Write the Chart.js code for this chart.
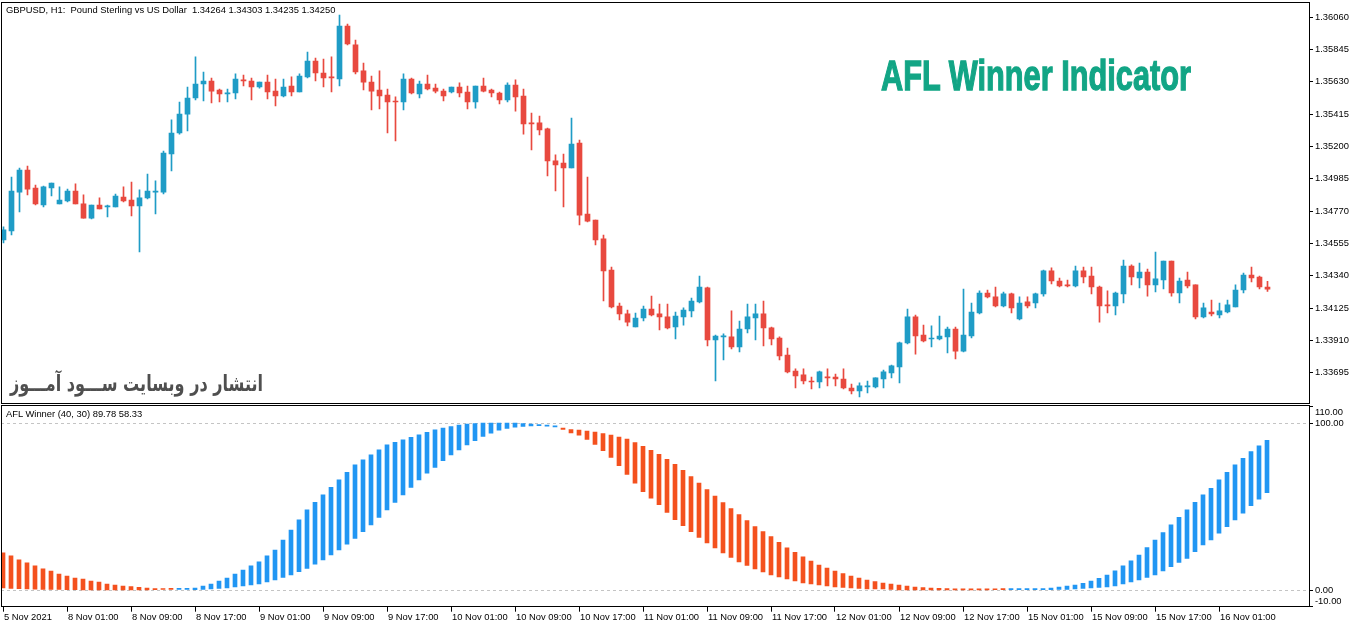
<!DOCTYPE html>
<html>
<head>
<meta charset="utf-8">
<script src="https://cdn.jsdelivr.net/npm/chart.js@4.4.0/dist/chart.umd.min.js"></script>
<style>
html,body{margin:0;padding:0;background:#fff;width:1362px;height:628px;overflow:hidden;}
#wrap{position:relative;width:1362px;height:628px;background:#fff;}
canvas{position:absolute;left:0;}
#c1{top:0;}
#c2{top:404px;}
.lbl{position:absolute;font-family:'Liberation Sans',Arial,sans-serif;font-size:9.4px;line-height:11px;color:#000;white-space:pre;}
#title{position:absolute;left:881px;top:51px;font-family:'Liberation Sans Narrow','Liberation Sans',Arial,sans-serif;font-weight:bold;font-size:43px;line-height:48px;color:#12a585;-webkit-text-stroke:1.3px #12a585;white-space:nowrap;transform-origin:0 50%;}
#fa{position:absolute;left:10px;top:370px;font-family:'DejaVu Sans',sans-serif;font-weight:bold;font-size:22px;line-height:28px;color:#4f4f4f;white-space:nowrap;direction:rtl;transform-origin:0 50%;}
</style>
</head>
<body>
<div id="wrap">
<canvas id="c1" width="1362" height="404"></canvas>
<canvas id="c2" width="1362" height="224"></canvas>
<div class="lbl" style="left:6px;top:4px;">GBPUSD, H1:  Pound Sterling vs US Dollar  1.34264 1.34303 1.34235 1.34250</div>
<div id="title">AFL Winner Indicator</div>
<div id="fa">انتشار در وبسایت  ســـود آمـــوز</div>
<div class="lbl" style="left:6px;top:408px;">AFL Winner (40, 30) 89.78 58.33</div>
</div>
<script>
// ---------- data ----------
const candleOpen = [
1.34578,1.34638,1.34897,1.35044,1.34924,1.34811,1.34924,1.34818,1.34838,1.34904,
1.34818,1.34724,1.34811,1.34798,1.34798,1.34864,1.34844,1.34804,1.34858,1.34897,
1.34897,1.35150,1.35290,1.35416,1.35523,1.35616,1.35636,1.35576,1.35550,1.35556,
1.35643,1.35636,1.35596,1.35629,1.35569,1.35536,1.35603,1.35563,1.35663,1.35769,
1.35689,1.35663,1.35649,1.36002,1.35876,1.35703,1.35629,1.35576,1.35543,1.35503,
1.35496,1.35649,1.35550,1.35616,1.35589,1.35569,1.35563,1.35596,1.35563,1.35496,
1.35603,1.35576,1.35556,1.35510,1.35609,1.35536,1.35357,1.35357,1.35317,1.35104,
1.35090,1.35057,1.35223,1.34751,1.34711,1.34585,1.34378,1.34139,1.34086,1.33999,
1.34059,1.34119,1.34086,1.34066,1.33999,1.34066,1.34106,1.34166,1.34259,1.33913,
1.33933,1.33933,1.33866,1.33986,1.34059,1.34086,1.33993,1.33926,1.33813,1.33706,
1.33680,1.33640,1.33633,1.33666,1.33666,1.33653,1.33593,1.33573,1.33600,1.33600,
1.33653,1.33693,1.33733,1.33893,1.34066,1.33946,1.33919,1.33919,1.33933,1.33986,
1.33839,1.33939,1.34092,1.34225,1.34199,1.34139,1.34219,1.34052,1.34166,1.34159,
1.34219,1.34372,1.34305,1.34279,1.34272,1.34372,1.34338,1.34265,1.34146,1.34139,
1.34219,1.34405,1.34325,1.34365,1.34279,1.34312,1.34438,1.34225,1.34312,1.34279,
1.34066,1.34099,1.34079,1.34099,1.34132,1.34245,1.34345,1.34332,1.34264];
const candleHigh = [
1.34665,1.34997,1.35057,1.35070,1.34944,1.34937,1.34957,1.34931,1.34917,1.34951,
1.34878,1.34811,1.34858,1.34811,1.34884,1.34931,1.34964,1.34911,1.35017,1.34971,
1.35170,1.35377,1.35496,1.35596,1.35796,1.35696,1.35656,1.35583,1.35583,1.35683,
1.35676,1.35656,1.35629,1.35676,1.35649,1.35649,1.35663,1.35683,1.35829,1.35789,
1.35782,1.35796,1.36075,1.36015,1.35909,1.35756,1.35669,1.35703,1.35583,1.35530,
1.35683,1.35656,1.35636,1.35676,1.35616,1.35583,1.35596,1.35623,1.35603,1.35603,
1.35656,1.35583,1.35563,1.35623,1.35643,1.35583,1.35423,1.35403,1.35323,1.35144,
1.35150,1.35390,1.35243,1.34997,1.34711,1.34611,1.34398,1.34159,1.34112,1.34092,
1.34139,1.34205,1.34152,1.34152,1.34099,1.34126,1.34192,1.34338,1.34265,1.33946,
1.33953,1.34106,1.34039,1.34152,1.34152,1.34172,1.33999,1.33933,1.33859,1.33720,
1.33720,1.33666,1.33706,1.33720,1.33686,1.33720,1.33620,1.33627,1.33640,1.33660,
1.33713,1.33746,1.33899,1.34119,1.34079,1.34012,1.34006,1.34072,1.33999,1.33999,
1.34252,1.34159,1.34239,1.34245,1.34265,1.34232,1.34225,1.34199,1.34199,1.34225,
1.34378,1.34392,1.34325,1.34312,1.34405,1.34398,1.34398,1.34272,1.34239,1.34232,
1.34445,1.34412,1.34425,1.34385,1.34498,1.34438,1.34438,1.34325,1.34365,1.34279,
1.34159,1.34179,1.34159,1.34179,1.34279,1.34358,1.34398,1.34338,1.34303];
const candleLow = [
1.34558,1.34611,1.34764,1.34878,1.34811,1.34798,1.34871,1.34818,1.34831,1.34818,
1.34724,1.34718,1.34784,1.34731,1.34798,1.34831,1.34738,1.34498,1.34851,1.34751,
1.34884,1.35037,1.35283,1.35303,1.35510,1.35503,1.35490,1.35496,1.35496,1.35516,
1.35603,1.35510,1.35589,1.35516,1.35470,1.35530,1.35536,1.35563,1.35656,1.35636,
1.35596,1.35563,1.35603,1.35876,1.35683,1.35576,1.35443,1.35450,1.35290,1.35237,
1.35443,1.35550,1.35523,1.35576,1.35556,1.35503,1.35556,1.35530,1.35450,1.35456,
1.35563,1.35530,1.35483,1.35496,1.35436,1.35283,1.35177,1.35277,1.35004,1.34904,
1.34798,1.35057,1.34678,1.34698,1.34545,1.34172,1.34126,1.34046,1.34006,1.33999,
1.34039,1.34072,1.33979,1.33986,1.33919,1.34012,1.34066,1.34159,1.33873,1.33640,
1.33780,1.33853,1.33833,1.33959,1.33913,1.33873,1.33879,1.33780,1.33693,1.33593,
1.33620,1.33587,1.33593,1.33607,1.33607,1.33587,1.33553,1.33533,1.33560,1.33593,
1.33593,1.33660,1.33627,1.33886,1.33819,1.33899,1.33866,1.33913,1.33826,1.33786,
1.33833,1.33926,1.34086,1.34192,1.34132,1.34132,1.34092,1.34046,1.34126,1.34126,
1.34205,1.34285,1.34265,1.34265,1.34265,1.34292,1.34219,1.34032,1.34092,1.34079,
1.34159,1.34279,1.34259,1.34205,1.34232,1.34252,1.34205,1.34159,1.34259,1.34052,
1.34059,1.34072,1.34059,1.34092,1.34132,1.34225,1.34299,1.34252,1.34235];
const candleClose = [
1.34645,1.34904,1.35044,1.34917,1.34818,1.34931,1.34957,1.34844,1.34904,1.34818,
1.34724,1.34811,1.34784,1.34804,1.34871,1.34838,1.34804,1.34858,1.34904,1.34904,
1.35157,1.35290,1.35416,1.35523,1.35616,1.35636,1.35569,1.35550,1.35556,1.35649,
1.35636,1.35596,1.35629,1.35563,1.35536,1.35596,1.35563,1.35669,1.35769,1.35689,
1.35656,1.35656,1.36002,1.35882,1.35696,1.35629,1.35569,1.35536,1.35496,1.35496,
1.35649,1.35556,1.35616,1.35583,1.35569,1.35536,1.35596,1.35556,1.35496,1.35603,
1.35569,1.35556,1.35510,1.35609,1.35530,1.35350,1.35350,1.35310,1.35104,1.35077,
1.35057,1.35217,1.34744,1.34704,1.34578,1.34372,1.34132,1.34086,1.34032,1.34059,
1.34119,1.34079,1.34066,1.33993,1.34072,1.34112,1.34172,1.34265,1.33913,1.33939,
1.33939,1.33866,1.33986,1.34066,1.34086,1.33993,1.33919,1.33806,1.33700,1.33673,
1.33640,1.33633,1.33700,1.33660,1.33653,1.33593,1.33573,1.33607,1.33607,1.33660,
1.33700,1.33740,1.33893,1.34066,1.33939,1.33906,1.33926,1.33939,1.33986,1.33839,
1.33946,1.34099,1.34225,1.34199,1.34139,1.34219,1.34126,1.34159,1.34139,1.34219,
1.34372,1.34305,1.34272,1.34272,1.34372,1.34332,1.34265,1.34139,1.34139,1.34225,
1.34405,1.34332,1.34365,1.34279,1.34319,1.34438,1.34225,1.34305,1.34272,1.34066,
1.34126,1.34086,1.34106,1.34146,1.34245,1.34345,1.34325,1.34265,1.34250];
const aflMain = [
1.2,1.0,0.8,0.6,0.5,0.4,0.3,0.3,0.2,0.2,
0.1,0.1,0.1,0.1,0.1,0.1,0.1,0.1,0.1,0.2,
0.3,0.4,0.7,1.0,1.2,2.3,3.6,5.3,7.2,9.5,
12,14.5,16.9,20.5,24,30,36,42,48,52.5,
57,61.5,66,70.5,75,78,81,84,87,88.5,
90,91.5,93,94.5,96,97,98,98.8,99.4,99.7,
100,100,100,100,100,99.8,99.4,98.8,98.4,97.9,
96.2,94.2,92.8,90.3,87.3,83.5,79.5,74.5,69.3,64,
59,55,51.2,46.5,42.2,38.5,35,31.5,28.3,25.2,
22.3,19.5,16.9,14.7,12.7,10.8,9,7.8,6.6,5.4,
4.2,3.6,3.0,2.4,1.8,1.5,1.2,0.9,0.6,0.6,
0.6,0.3,0.1,0.1,0.1,0.1,0.1,0.1,0.1,0.1,
0.1,0.1,0.1,0.1,0.15,0.2,0.3,0.4,0.5,0.6,
0.8,1.2,1.8,2.4,3.0,4.0,5.4,7.0,9.0,11.5,
14.5,17.5,21,25.5,30,34.5,39,43.5,48,52.5,
57,61,66,70.5,75,79,83,86.5,89.78];
const aflSignal = [
22.3,20.5,18.1,16.3,14.5,12.7,11.4,9.6,8.4,7.2,
6.6,5.4,4.8,3.6,3.0,2.4,2.0,1.6,1.2,0.9,
0.6,0.5,0.4,0.3,0.2,0.3,0.6,0.9,1.2,1.8,
2.4,3.0,3.6,4.8,6,7.5,9,11,13,15.5,
18,21,24,27.5,31,35,39,43.5,48,52.5,
57,61.5,66,70,73.5,77.5,81,84,87,89.5,
92,94,95.8,96.8,97.6,98.1,98.4,98.5,98.2,97.8,
97.0,96.2,95.8,95.2,94.6,93.8,92.8,91.7,90.4,88.4,
86.1,83.8,81.3,78.3,75.3,71.7,68,64.1,60.2,56.3,
52.4,48.8,45.2,41.6,38,35,32,28.6,25.3,22.6,
19.9,17.4,15,13.2,11.4,9.9,8.4,7.2,6,5.1,
4.2,3.6,3,2.4,1.8,1.5,1.2,1.0,0.8,0.7,
0.6,0.5,0.4,0.35,0.3,0.25,0.25,0.2,0.2,0.2,
0.2,0.25,0.3,0.4,0.6,0.9,1.2,1.5,1.8,2.5,
3.6,4.8,6,7.5,9,11.5,14,16.5,19,23,
27,30,34,38,42,46,50.5,54.5,58.33];
const priceTicks = [1.36060,1.35845,1.35630,1.35415,1.35200,1.34985,1.34770,1.34555,1.34340,1.34125,1.33910,1.33695];
const aflTicks = [-10,0,100,110];
const aflTickLabels = ['-10.00','0.00','100.00','110.00'];
const timeTickIndex = [0,8,16,24,32,40,48,56,64,72,80,88,96,104,112,120,128,136,144,152];
const timeTickLabels = ['5 Nov 2021','8 Nov 01:00','8 Nov 09:00','8 Nov 17:00','9 Nov 01:00','9 Nov 09:00','9 Nov 17:00',
 '10 Nov 01:00','10 Nov 09:00','10 Nov 17:00','11 Nov 01:00','11 Nov 09:00','11 Nov 17:00','12 Nov 01:00',
 '12 Nov 09:00','12 Nov 17:00','15 Nov 01:00','15 Nov 09:00','15 Nov 17:00','16 Nov 01:00'];

// ---------- styles ----------
const BULL = '#1f9cc6', BEAR = '#e8493f';
const AFL_UP = '#2196f3', AFL_DN = '#f4511e';
const FONT = {family: "'Liberation Sans', Arial, sans-serif", size: 9.4};

const framePlugin = {
  id: 'frame',
  afterDraw(chart) {
    const {ctx, chartArea: a} = chart;
    const t = Math.floor(a.top - 1) + 0.5;
    const b = Math.floor(a.bottom) + 0.5;
    const l = Math.floor(a.left) + 0.5;
    const r = Math.floor(a.right) + 0.5;
    ctx.save();
    ctx.strokeStyle = '#000';
    ctx.lineWidth = 1;
    ctx.strokeRect(l, t, r - l, b - t);
    ctx.restore();
  }
};
const noPad = s => { s.paddingTop = 0; s.paddingBottom = 0; s.paddingLeft = 0; s.paddingRight = 0; };

const idx = candleOpen.map((_, i) => i);
const candleColors = idx.map(i => candleClose[i] >= candleOpen[i] ? BULL : BEAR);

new Chart(document.getElementById('c1'), {
  type: 'bar',
  data: {
    datasets: [
      {
        data: idx.map(i => ({x: i, y: [candleLow[i], candleHigh[i]]})),
        backgroundColor: candleColors, barThickness: 1, grouped: false, minBarLength: 1, order: 2
      },
      {
        data: idx.map(i => ({x: i, y: [candleOpen[i], candleClose[i]]})),
        backgroundColor: candleColors, barThickness: 5, grouped: false, minBarLength: 1, order: 1
      }
    ]
  },
  options: {
    responsive: false, animation: false, devicePixelRatio: 1,
    layout: {padding: {left: 1, top: 3, bottom: 0.5, right: 0}},
    plugins: {legend: {display: false}, tooltip: {enabled: false}},
    scales: {
      x: {type: 'linear', offset: false, min: -0.3125, max: 163.1875, display: false},
      y: {
        position: 'right', min: 1.33490, max: 1.36155,
        afterBuildTicks: s => { s.ticks = priceTicks.map(v => ({value: v})); },
        afterFit: s => { s.width = 53; noPad(s); },
        ticks: {font: FONT, color: '#000', padding: 2, callback: (v, i) => priceTicks[i].toFixed(5)},
        grid: {drawOnChartArea: false, tickLength: 4, tickColor: '#000'},
        border: {display: false}
      }
    }
  },
  plugins: [framePlugin]
});

new Chart(document.getElementById('c2'), {
  type: 'bar',
  data: {
    datasets: [{
      data: idx.map(i => ({x: i, y: [aflMain[i], aflSignal[i]]})),
      backgroundColor: idx.map(i => aflMain[i] >= aflSignal[i] ? AFL_UP : AFL_DN),
      barThickness: 4, minBarLength: 1
    }]
  },
  options: {
    responsive: false, animation: false, devicePixelRatio: 1,
    layout: {padding: {left: 1, top: 2.5, bottom: 0, right: 0}},
    plugins: {legend: {display: false}, tooltip: {enabled: false}},
    scales: {
      x: {
        type: 'linear', offset: false, min: -0.25, max: 163.25, position: 'bottom',
        afterBuildTicks: s => { s.ticks = timeTickIndex.map(v => ({value: v})); },
        afterFit: s => { s.height = 21.3; noPad(s); },
        ticks: {font: FONT, color: '#000', padding: 0, align: 'start', labelOffset: 1,
                autoSkip: false, maxRotation: 0, minRotation: 0,
                callback: (v, i) => timeTickLabels[i]},
        grid: {drawOnChartArea: false, offset: false, tickLength: 5, tickColor: '#000'},
        border: {display: false}
      },
      y: {
        position: 'right', min: -10, max: 110,
        afterBuildTicks: s => { s.ticks = aflTicks.map(v => ({value: v})); },
        afterFit: s => { s.width = 53; noPad(s); },
        ticks: {font: FONT, color: '#000', padding: 2,
                callback: (v, i) => i === 0 ? [aflTickLabels[i], ''] : (i === aflTicks.length - 1 ? ['', aflTickLabels[i]] : aflTickLabels[i])},
        grid: {
          drawOnChartArea: true, tickLength: 4, tickColor: '#000', tickBorderDash: [],
          color: c => (c.tick && (c.tick.value === 0 || c.tick.value === 100)) ? '#c4c4c4' : 'rgba(0,0,0,0)'
        },
        border: {display: false, dash: [3, 3]}
      }
    }
  },
  plugins: [framePlugin]
});

function fitWidth(id, w) {
  const el = document.getElementById(id);
  const r = el.getBoundingClientRect();
  el.style.transform = 'scaleX(' + (w / r.width) + ')';
}
fitWidth('title', 310);
fitWidth('fa', 253);
</script>
</body>
</html>
